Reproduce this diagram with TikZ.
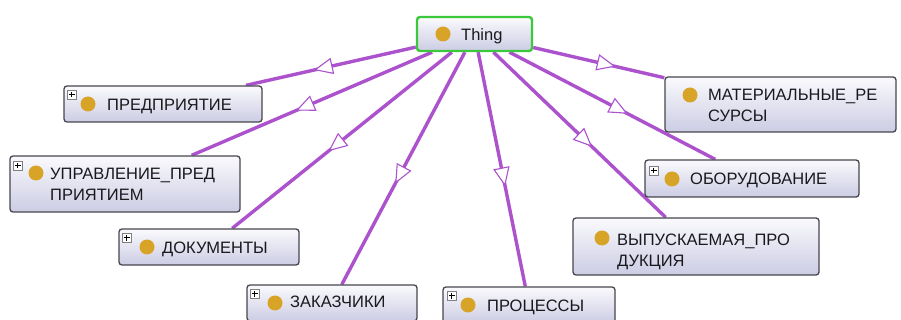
\documentclass[tikz,border=0pt]{standalone}
\usepackage{fontspec}
\setmainfont{Liberation Sans}
\usetikzlibrary{decorations.markings}
\definecolor{edgecol}{RGB}{172,82,204}
\definecolor{boxtop}{RGB}{250,250,253}
\definecolor{boxbot}{RGB}{204,204,228}
\definecolor{boxline}{RGB}{70,70,78}
\definecolor{dotcol}{RGB}{216,164,40}
\definecolor{thingline}{RGB}{60,200,60}
\definecolor{txtcol}{RGB}{25,25,30}
\pgfdeclarelayer{bg}
\pgfsetlayers{bg,main}
\begin{document}
\begin{tikzpicture}[x=1pt,y=-1pt,
  cls/.style={rectangle, rounded corners=3pt, draw=boxline, line width=1.3pt,
    top color=boxtop, bottom color=boxbot, inner sep=0pt},
  thingbox/.style={cls, draw=thingline, line width=2.4pt},
  lbl/.style={anchor=north west, inner sep=0pt, align=left, text=txtcol,
    font=\fontsize{16.5}{21}\selectfont},
  dotn/.style={circle, fill=dotcol, minimum size=15pt, inner sep=0pt},
  plusn/.style={rectangle, draw=gray, fill=white, minimum size=9pt, inner sep=0pt,
    line width=0.6pt, anchor=north west,
    path picture={
      \draw[black, line width=1pt] ([xshift=1.8pt]path picture bounding box.west) -- ([xshift=-1.8pt]path picture bounding box.east);
      \draw[black, line width=1pt] ([yshift=-1.8pt]path picture bounding box.north) -- ([yshift=1.8pt]path picture bounding box.south);}},
  edge/.style={draw=edgecol, line width=3.4pt, postaction={decorate},
    decoration={markings, mark=at position 0.5 with {
      \draw[edgecol, fill=white, line width=1.1pt, line join=miter]
        (-1pt,-7.5pt) -- (16pt,0pt) -- (-1pt,7.5pt) -- cycle;}}}
]
\path[use as bounding box, clip] (0,0) rectangle (901,320);
\begin{pgfonlayer}{bg}
\fill[white] (0,0) rectangle (901,320);
\end{pgfonlayer}

% boxes
\node[thingbox, minimum width=115pt, minimum height=34pt] (thing) at (474.5,34) {};
\node[cls, minimum width=198pt, minimum height=36pt] (b1) at (163,104) {};
\node[cls, minimum width=230pt, minimum height=56pt] (b2) at (125,184) {};
\node[cls, minimum width=180pt, minimum height=36pt] (b3) at (209,247) {};
\node[cls, minimum width=170pt, minimum height=36pt] (b4) at (332,303) {};
\node[cls, minimum width=172pt, minimum height=36pt] (b5) at (529,305) {};
\node[cls, minimum width=246pt, minimum height=57pt] (b6) at (696,246.5) {};
\node[cls, minimum width=231pt, minimum height=55pt] (b7) at (780.5,104.5) {};
\node[cls, minimum width=214pt, minimum height=37pt] (b8) at (752,178.5) {};

% dots
\node[dotn] (d0) at (443,34) {};
\node[dotn] (d1) at (88,104) {};
\node[dotn] (d2) at (36,173) {};
\node[dotn] (d3) at (147,247) {};
\node[dotn] (d4) at (275,303) {};
\node[dotn] (d5) at (468,305) {};
\node[dotn] (d6) at (602,238) {};
\node[dotn] (d7) at (690,95) {};
\node[dotn] (d8) at (672,179) {};

% plus icons
\node[plusn] (p1) at (67,90) {};
\node[plusn] (p2) at (13,161) {};
\node[plusn] (p3) at (122,233) {};
\node[plusn] (p4) at (250,289) {};
\node[plusn] (p5) at (447,291) {};
\node[plusn] (p8) at (649,166) {};

% labels
\node[lbl] (t0) at (461,26.1) {\strut Thing};
\node[lbl] (t1) at (107,96.1) {\strut ПРЕДПРИЯТИЕ};
\node[lbl] (t2) at (50,164.6) {\strut УПРАВЛЕНИЕ\_ПРЕД\\\strut ПРИЯТИЕМ};
\node[lbl] (t3) at (162,238.6) {\strut ДОКУМЕНТЫ};
\node[lbl] (t4) at (290,292.6) {\strut ЗАКАЗЧИКИ};
\node[lbl] (t5) at (487,296.1) {\strut ПРОЦЕССЫ};
\node[lbl] (t6) at (617,230.6) {\strut ВЫПУСКАЕМАЯ\_ПРО\\\strut ДУКЦИЯ};
\node[lbl] (t7) at (708,86.1) {\strut МАТЕРИАЛЬНЫЕ\_РЕ\\\strut СУРСЫ};
\node[lbl] (t8) at (690,170.1) {\strut ОБОРУДОВАНИЕ};

% edges
\begin{pgfonlayer}{bg}
\foreach \c in {b1,b2,b3,b4,b5,b6,b7,b8}{
  \draw[edge] (thing) -- (\c);
}
\end{pgfonlayer}
\end{tikzpicture}
\end{document}
